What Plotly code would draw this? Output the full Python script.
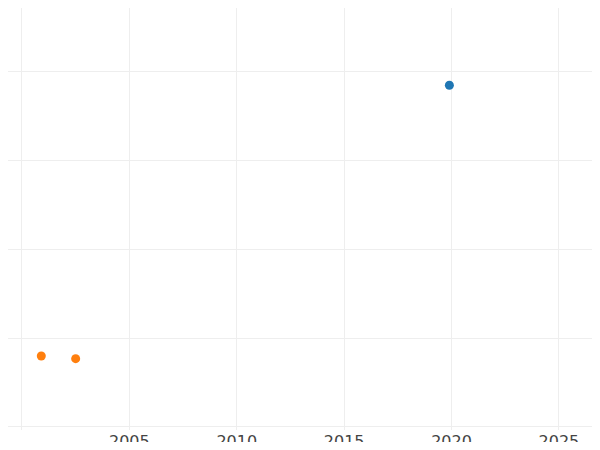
import plotly.graph_objects as go

blue_x = [2019.9]
blue_y = [3.85]
orange_x = [2000.9, 2002.5]
orange_y = [0.80, 0.77]

fig = go.Figure()
fig.add_trace(go.Scatter(x=blue_x, y=blue_y, mode="markers", marker=dict(color="#1f77b4", size=9)))
fig.add_trace(go.Scatter(x=orange_x, y=orange_y, mode="markers", marker=dict(color="#ff7f0e", size=9)))
fig.update_layout(
    width=584, height=434, showlegend=False,
    margin=dict(l=0, r=0, t=0, b=12, autoexpand=False),
    plot_bgcolor="white", paper_bgcolor="white",
    font=dict(family="DejaVu Sans", size=16, color="#444"),
    xaxis=dict(range=[1999.35, 2026.54], tickvals=[2000, 2005, 2010, 2015, 2020, 2025],
               showgrid=True, gridcolor="#eeeeee", zeroline=False, ticks="", automargin=False),
    yaxis=dict(range=[-0.034, 4.72], tickvals=[0, 1, 2, 3, 4], showticklabels=False,
               showgrid=True, gridcolor="#eeeeee", zeroline=False, automargin=False),
)
fig.write_html("out.html")
